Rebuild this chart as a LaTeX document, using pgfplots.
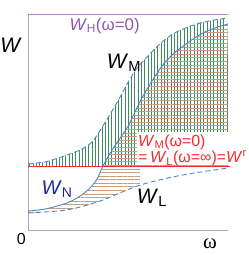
\documentclass[border=0pt]{standalone}
\usepackage{pgfplots}
\pgfplotsset{compat=1.18}
\usepgfplotslibrary{fillbetween}
\usetikzlibrary{patterns.meta}
\usepackage{fontspec}
\setmainfont{Liberation Sans}
\newfontfamily\serifw{Liberation Serif}
\definecolor{cblue}{HTML}{4A86C8}
\definecolor{cgreen}{HTML}{3E8C5E}
\definecolor{cbrown}{HTML}{C89A7C}
\definecolor{cred}{HTML}{F52A2A}
\definecolor{cpurpleline}{HTML}{C07ACC}
\definecolor{cpurple}{HTML}{8A5AAE}
\definecolor{cnavy}{HTML}{1E2A8C}
\definecolor{cgrey}{HTML}{A8A8A8}
\begin{document}
\begin{tikzpicture}
\begin{axis}[at={(0,0)},anchor=south west, scale only axis,
  width=249bp, height=255bp,
  xmin=-1.4, xmax=11.05, ymin=-1.157, ymax=10.648,
  hide axis, clip=false]
% upper dashed W_M
\addplot[name path=WM, draw=none, smooth] coordinates {
(0,3.06)(0.85,3.15)(1.5,3.33)(2.1,3.52)(2.7,3.75)(3.2,4.07)(3.6,4.60)
(4.1,5.35)(4.6,6.15)(4.95,6.75)(5.45,7.50)(5.95,8.01)(6.6,8.62)
(7.25,9.08)(7.95,9.38)(8.6,9.58)(9.3,9.72)(9.95,9.81)};
% solid W_N
\addplot[name path=WN, draw=none, smooth] coordinates {
(0,0.88)(0.85,0.97)(1.95,1.25)(2.6,1.57)(3.1,1.94)(3.45,2.36)(3.75,2.96)
(4.1,3.55)(4.45,4.05)(5.0,4.80)(5.6,5.95)(6.1,6.75)(6.75,7.65)
(7.45,8.30)(8.6,9.05)(9.35,9.35)(10,9.54)};
% lower dashed W_L
\addplot[name path=WL, draw=none, smooth] coordinates {
(0,0.79)(1.95,0.93)(3.6,1.34)(5.6,2.08)(7.75,2.55)(10,2.87)};
% red line
\addplot[name path=R, draw=none] coordinates {(0,2.96)(10.1,2.96)};

\addplot[draw=none, pattern={Lines[angle=90,distance=3.3pt,line width=0.7pt]}, pattern color=cgreen]
  fill between[of=WM and R];
\addplot[draw=none, pattern={Lines[angle=0,distance=3.6pt,line width=0.8pt]}, pattern color=cbrown]
  fill between[of=WN and WL, soft clip={domain=0:5.6}];
\addplot[draw=none, pattern={Lines[angle=0,distance=3.6pt,line width=0.8pt]}, pattern color=cbrown]
  fill between[of=WN and R, soft clip={domain=3.75:10}];

% white box behind red text
\fill[white] (axis cs:5.45,3.02) rectangle (axis cs:11.05,4.55);

% axes lines
\draw[cgrey, line width=0.7pt] (axis cs:0,10) -- (axis cs:0,0) -- (axis cs:10,0);
% purple line
\addplot[cpurpleline, line width=0.9pt] coordinates {(0,10)(10,10)};
% red line
\addplot[cred, line width=1.1pt] coordinates {(0,2.96)(10.1,2.96)};
% curves
\addplot[cblue, line width=0.9pt, smooth, dash pattern=on 5pt off 3pt] coordinates {
(0,3.06)(0.85,3.15)(1.5,3.33)(2.1,3.52)(2.7,3.75)(3.2,4.07)(3.6,4.60)
(4.1,5.35)(4.6,6.15)(4.95,6.75)(5.45,7.50)(5.95,8.01)(6.6,8.62)
(7.25,9.08)(7.95,9.38)(8.6,9.58)(9.3,9.72)(9.95,9.81)};
\addplot[cblue, line width=0.9pt, smooth] coordinates {
(0,0.88)(0.85,0.97)(1.95,1.25)(2.6,1.57)(3.1,1.94)(3.45,2.36)(3.75,2.96)
(4.1,3.55)(4.45,4.05)(5.0,4.80)(5.6,5.95)(6.1,6.75)(6.75,7.65)
(7.45,8.30)(8.6,9.05)(9.35,9.35)(10,9.54)};
\addplot[cblue, line width=0.9pt, smooth, dash pattern=on 5pt off 3pt] coordinates {
(0,0.79)(1.95,0.93)(3.6,1.34)(5.6,2.08)(7.75,2.55)(10,2.87)};

% labels
\node[font=\fontsize{21}{23}\selectfont] at (axis cs:-0.85,8.56) {\textit{W}};
\node[font=\fontsize{21}{23}\selectfont] at (axis cs:4.8,7.75) {\textit{W}\textsubscript{M}};
\node[font=\fontsize{17}{19}\selectfont, text=cpurple] at (axis cs:3.83,9.45) {\textit{W}\textsubscript{H}(ω=0)};
\node[font=\fontsize{20}{22}\selectfont, text=cnavy] at (axis cs:1.45,1.9) {\textit{W}\textsubscript{N}};
\node[font=\fontsize{21}{23}\selectfont] at (axis cs:6.2,1.5) {\textit{W}\textsubscript{L}};
\node[font=\fontsize{16}{15.5}\selectfont, text=cred, anchor=west, inner sep=0pt, align=left] at (axis cs:5.5,3.68)
  {\textit{W}\textsubscript{M}(ω=0)\\=\,\textit{W}\textsubscript{L}(ω=∞)=\textit{W}\textsuperscript{r}};
\node[font=\fontsize{16}{18}\selectfont] at (axis cs:-0.33,-0.42) {0};
\node[font=\serifw\fontsize{21}{23}\selectfont] at (axis cs:9.1,-0.62) {ω};
\end{axis}
\pgfresetboundingbox
\useasboundingbox (0,0) rectangle (249bp,255bp);
\end{tikzpicture}
\end{document}
